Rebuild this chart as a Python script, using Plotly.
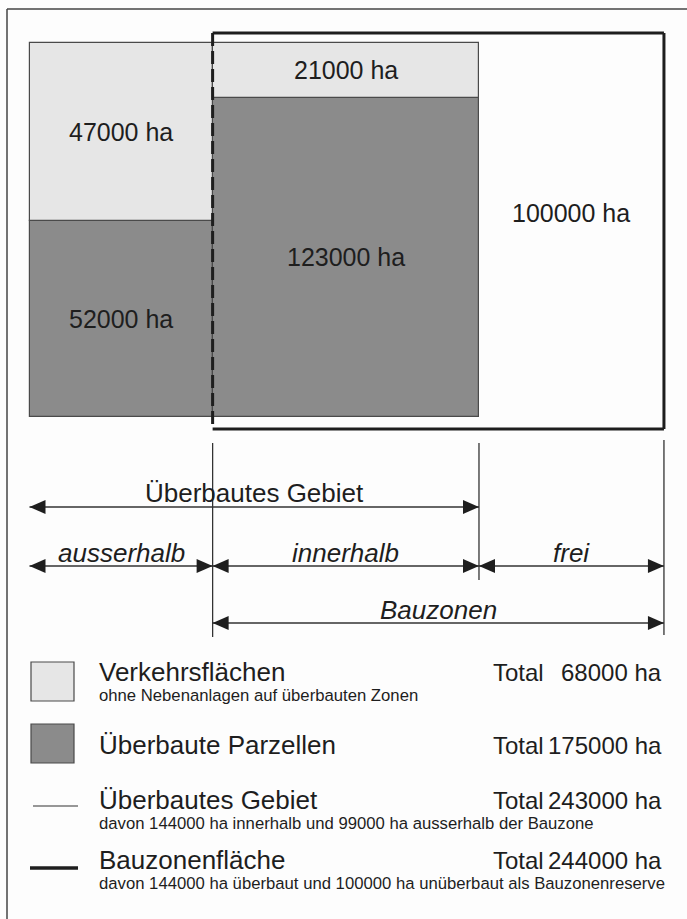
import plotly.graph_objects as go

# ---------------- data ----------------
columns = ["ausserhalb", "innerhalb", "frei"]
verkehr = [47000, 21000, 0]          # Verkehrsflächen (ha)
parzellen = [52000, 123000, 0]       # Überbaute Parzellen (ha)
reserve = [0, 0, 100000]             # unüberbaute Bauzonenreserve (ha)

segment_labels_verkehr = ["47000 ha", "21000 ha"]
segment_labels_parzellen = ["52000 ha", "123000 ha"]
reserve_label = "100000 ha"

legend_titles = ["Verkehrsflächen", "Überbaute Parzellen", "Überbautes Gebiet", "Bauzonenfläche"]
legend_subtitles = ["ohne Nebenanlagen auf überbauten Zonen", "",
                    "davon 144000 ha innerhalb und 99000 ha ausserhalb der Bauzone",
                    "davon 144000 ha überbaut und 100000 ha unüberbaut als Bauzonenreserve"]
legend_totals = ["68000 ha", "175000 ha", "243000 ha", "244000 ha"]

span_labels = ["Überbautes Gebiet", "ausserhalb", "innerhalb", "frei", "Bauzonen"]

# ---------------- derived (marimekko geometry) ----------------
totals = [v + p + r for v, p, r in zip(verkehr, parzellen, reserve)]
edges = [0]
for t in totals:
    edges.append(edges[-1] + t)
centers = [(edges[i] + edges[i + 1]) / 2 for i in range(len(totals))]
built = [i for i in range(len(totals)) if verkehr[i] + parzellen[i] > 0]

W, H = 687, 919
FONT = "Liberation Sans, Arial, sans-serif"
LIGHT = "#e6e6e6"
DARK = "#8b8b8b"
EDGE = "#4a4a4a"
INK = "#1e1e1e"

# pixel mapping of axes (margins 0)
X0PX, XSCALE = 29.5, 1.8497 / 1000.0      # px at x=0, px per ha
Y0PX, YSCALE = 417.0, 374.0               # px at y=0, px per unit share
xr = [-X0PX / XSCALE, (W - X0PX) / XSCALE]
yr = [-(H - Y0PX) / YSCALE, 1 + (Y0PX - YSCALE) / YSCALE]


def py(p):
    return 1 - p / H


def px(p):
    return p / W


fig = go.Figure()

# dark (Überbaute Parzellen) segment at bottom
fig.add_trace(go.Bar(
    x=[centers[i] for i in built],
    width=[totals[i] for i in built],
    y=[parzellen[i] / (verkehr[i] + parzellen[i]) for i in built],
    base=[0 for i in built],
    marker=dict(color=DARK, line=dict(color=EDGE, width=1.2)),
    hoverinfo="skip", showlegend=False,
))
# light (Verkehrsflächen) segment on top
fig.add_trace(go.Bar(
    x=[centers[i] for i in built],
    width=[totals[i] for i in built],
    y=[verkehr[i] / (verkehr[i] + parzellen[i]) for i in built],
    base=[parzellen[i] / (verkehr[i] + parzellen[i]) for i in built],
    marker=dict(color=LIGHT, line=dict(color=EDGE, width=1.2)),
    hoverinfo="skip", showlegend=False,
))

shapes = []
annos = []

# segment labels
for k, i in enumerate(built):
    s = verkehr[i] + parzellen[i]
    pv = parzellen[i] / s
    annos.append(dict(x=centers[i], y=pv + (1 - pv) / 2, xref="x", yref="y",
                      text=segment_labels_verkehr[k], showarrow=False,
                      font=dict(size=25, color=INK, family=FONT)))
    annos.append(dict(x=centers[i], y=pv / 2, xref="x", yref="y",
                      text=segment_labels_parzellen[k], showarrow=False,
                      font=dict(size=25, color=INK, family=FONT)))
annos.append(dict(x=centers[2], y=0.545, xref="x", yref="y", text=reserve_label,
                  showarrow=False, font=dict(size=25, color=INK, family=FONT)))

# Bauzonen frame (thick), left side dashed
bz_x0, bz_x1 = edges[1], edges[3]
ftop, fbot = 1 + 10 / YSCALE, -12 / YSCALE
for (xa, ya, xb, yb) in [(bz_x0, ftop, bz_x1, ftop), (bz_x1, ftop, bz_x1, fbot), (bz_x0, fbot, bz_x1, fbot)]:
    shapes.append(dict(type="line", xref="x", yref="y", x0=xa, y0=ya, x1=xb, y1=yb,
                       line=dict(color=INK, width=3)))
shapes.append(dict(type="line", xref="x", yref="y", x0=bz_x0, y0=ftop, x1=bz_x0, y1=fbot,
                   line=dict(color=INK, width=3, dash="13px,5px")))

# outer frame (scan border)
shapes.append(dict(type="line", xref="paper", yref="paper", x0=px(7), y0=py(9), x1=1.0, y1=py(9),
                   line=dict(color="#444", width=1.5)))
shapes.append(dict(type="line", xref="paper", yref="paper", x0=px(7), y0=py(9), x1=px(7), y1=0,
                   line=dict(color="#444", width=1.5)))

# vertical guide lines
for xv, ya, yb in [(edges[1], 443, 637), (edges[2], 443, 580), (edges[3], 440, 635)]:
    shapes.append(dict(type="line", xref="x", yref="paper", x0=xv, x1=xv, y0=py(ya), y1=py(yb),
                       line=dict(color="#333", width=1.3)))


def arrow(xa, xb, ypx):
    shapes.append(dict(type="line", xref="x", yref="paper", x0=xa, x1=xb, y0=py(ypx), y1=py(ypx),
                       line=dict(color="#333", width=1.6)))
    shapes.append(dict(type="path", xref="x", yref="paper", xsizemode="pixel", ysizemode="pixel",
                       xanchor=xa, yanchor=py(ypx), path="M 0 0 L 16 7 L 16 -7 Z",
                       fillcolor=INK, line=dict(width=0)))
    shapes.append(dict(type="path", xref="x", yref="paper", xsizemode="pixel", ysizemode="pixel",
                       xanchor=xb, yanchor=py(ypx), path="M 0 0 L -16 7 L -16 -7 Z",
                       fillcolor=INK, line=dict(width=0)))


spans = [(edges[0], edges[2], 507, 493, False),
         (edges[0], edges[1], 566, 553, True),
         (edges[1], edges[2], 566, 553, True),
         (edges[2], edges[3], 566, 553, True),
         (edges[1], edges[3], 623, 610, True)]
for (xa, xb, ya, yt, ital), lab in zip(spans, span_labels):
    arrow(xa, xb, ya)
    txt = f"<i>{lab}</i>" if ital else lab
    annos.append(dict(x=(xa + xb) / 2, y=py(yt), xref="x", yref="paper", text=txt,
                      showarrow=False, font=dict(size=26, color=INK, family=FONT)))

# ---------------- legend ----------------
shapes.append(dict(type="rect", xref="paper", yref="paper", x0=px(31), x1=px(74), y0=py(662), y1=py(701),
                   fillcolor=LIGHT, line=dict(color=EDGE, width=1.2)))
shapes.append(dict(type="rect", xref="paper", yref="paper", x0=px(31), x1=px(74), y0=py(724), y1=py(763),
                   fillcolor=DARK, line=dict(color=EDGE, width=1.2)))
shapes.append(dict(type="line", xref="paper", yref="paper", x0=px(33), x1=px(78), y0=py(806), y1=py(806),
                   line=dict(color="#333", width=1.2)))
shapes.append(dict(type="line", xref="paper", yref="paper", x0=px(30), x1=px(78), y0=py(868), y1=py(868),
                   line=dict(color=INK, width=3.5)))

title_y = [672, 745, 800, 860]
sub_y = [695, None, 823, 883]
for t, s, tot, ty, sy in zip(legend_titles, legend_subtitles, legend_totals, title_y, sub_y):
    annos.append(dict(x=px(97), y=py(ty), xref="paper", yref="paper", text=t, showarrow=False,
                      xanchor="left", yanchor="middle", font=dict(size=26, color=INK, family=FONT)))
    annos.append(dict(x=px(491), y=py(ty), xref="paper", yref="paper", text="Total", showarrow=False,
                      xanchor="left", yanchor="middle", font=dict(size=24, color=INK, family=FONT)))
    annos.append(dict(x=px(664), y=py(ty), xref="paper", yref="paper", text=tot, showarrow=False,
                      xanchor="right", yanchor="middle", font=dict(size=24, color=INK, family=FONT)))
    if s:
        annos.append(dict(x=px(97), y=py(sy), xref="paper", yref="paper", text=s, showarrow=False,
                          xanchor="left", yanchor="middle", font=dict(size=16.7, color=INK, family=FONT)))

fig.update_layout(
    width=W, height=H,
    margin=dict(l=0, r=0, t=0, b=0),
    paper_bgcolor="#fdfdfd", plot_bgcolor="rgba(0,0,0,0)",
    barmode="overlay", bargap=0,
    xaxis=dict(range=xr, visible=False, fixedrange=True),
    yaxis=dict(range=yr, visible=False, fixedrange=True),
    shapes=shapes, annotations=annos,
)

fig.write_html("out.html", config={"displayModeBar": False},
               post_script="document.body.style.margin='0';document.body.style.overflow='hidden';")
